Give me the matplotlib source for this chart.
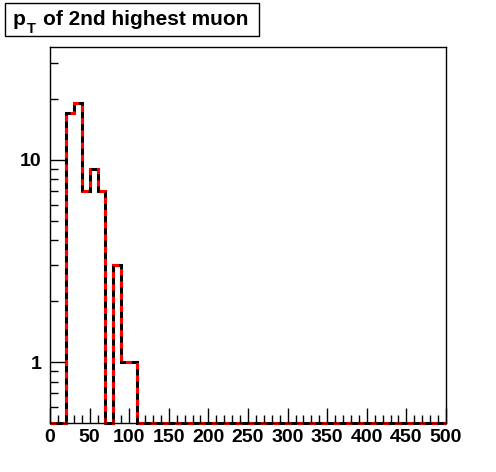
import numpy as np
import matplotlib
matplotlib.use("Agg")
import matplotlib.pyplot as plt
from matplotlib.patches import Rectangle
from matplotlib.ticker import MultipleLocator, FixedLocator, NullFormatter, FixedFormatter

# Data
bin_edges = np.arange(0, 510, 10)
counts = np.zeros(50)
counts[2] = 17
counts[3] = 19
counts[4] = 7
counts[5] = 9
counts[6] = 7
counts[8] = 3
counts[9] = 1
counts[10] = 1

title_main = "p"
title_sub = "T"
title_rest = "of 2nd highest muon"

plt.rcParams['font.family'] = ['Liberation Sans', 'DejaVu Sans']

W, H = 496, 472
fig = plt.figure(figsize=(W/100, H/100), dpi=100)
ax = fig.add_axes([50/W, 49/H, 396/W, 376/H])

ymin, ymax = 0.5, 36.0
draw_counts = np.where(counts > 0, counts, ymin)
ax.stairs(draw_counts, bin_edges, color='black', lw=2.2, baseline=None, clip_on=False)
ax.stairs(draw_counts, bin_edges, color='red', lw=2.2, ls=(0, (2, 2)), baseline=None, clip_on=False)

ax.set_yscale('log')
ax.set_xlim(0, 500)
ax.set_ylim(ymin, ymax)

ax.xaxis.set_major_locator(MultipleLocator(50))
ax.xaxis.set_minor_locator(MultipleLocator(10))
ax.yaxis.set_major_locator(FixedLocator([1, 10]))
ax.yaxis.set_major_formatter(FixedFormatter(['1', '10']))
ax.yaxis.set_minor_locator(FixedLocator([0.6, 0.7, 0.8, 0.9, 2, 3, 4, 5, 6, 7, 8, 9, 20, 30]))
ax.yaxis.set_minor_formatter(NullFormatter())

ax.tick_params(which='both', direction='in', top=False, right=False, width=1)
ax.tick_params(which='major', length=11, labelsize=14)
ax.tick_params(which='minor', length=6)
ax.tick_params(axis='x', pad=4)
ax.tick_params(axis='y', pad=6)
for lab in ax.get_xticklabels() + ax.get_yticklabels():
    lab.set_fontweight('bold')
for s in ax.spines.values():
    s.set_linewidth(1)

# Title box
fig.add_artist(Rectangle((4.5/W, 1 - 36/H), 254/W, 33/H, transform=fig.transFigure,
                         fc='white', ec='black', lw=1))
fig.text(13/W, 1 - 25/H, title_main, fontsize=15, fontweight='bold', va='baseline', ha='left')
fig.text(27/W, 1 - 33/H, title_sub, fontsize=10.5, fontweight='bold', va='baseline', ha='left')
fig.text(43/W, 1 - 25/H, title_rest, fontsize=15, fontweight='bold', va='baseline', ha='left')

fig.savefig('out.png', dpi=100)
